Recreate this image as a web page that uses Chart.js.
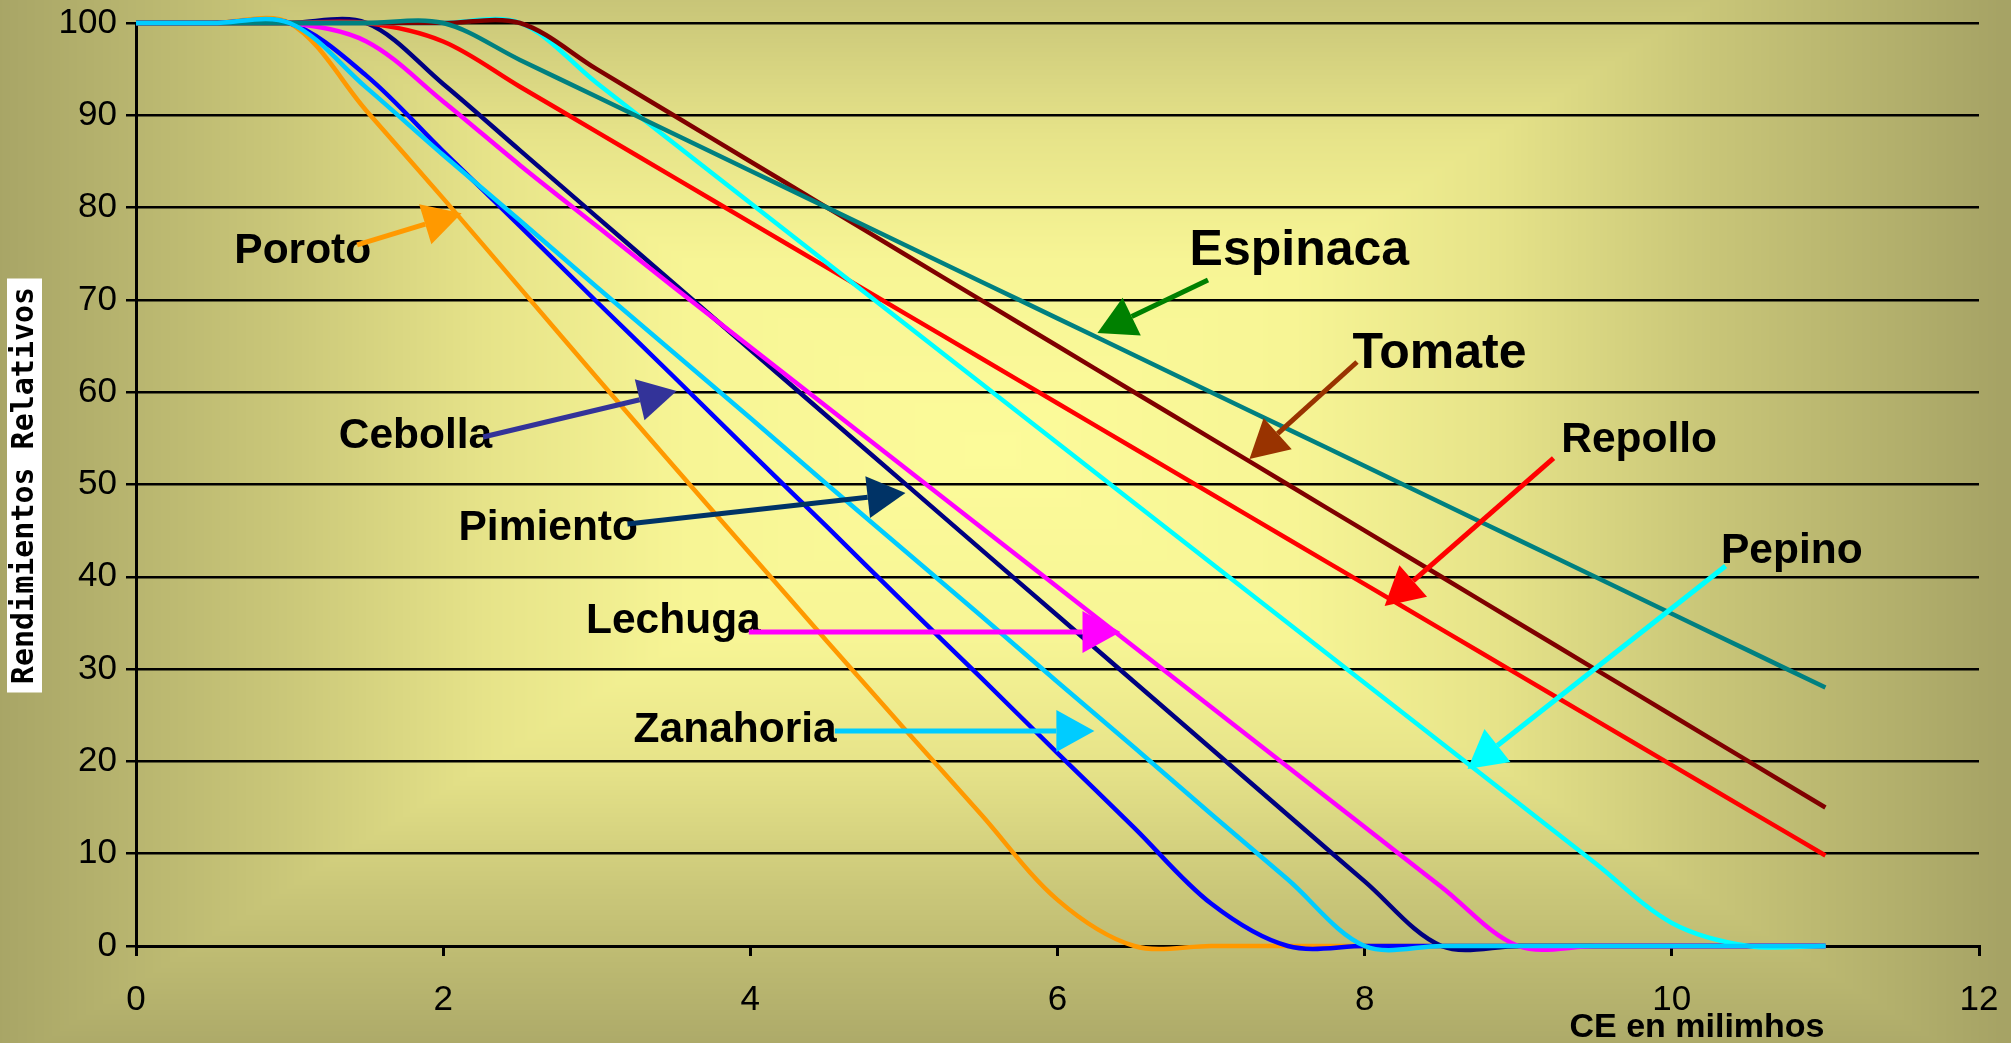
<!DOCTYPE html>
<html>
<head>
<meta charset="utf-8">
<title>Tolerancia de cultivos a la salinidad</title>
<script src="https://cdn.jsdelivr.net/npm/chart.js@4.4.1/dist/chart.umd.min.js"></script>
<style>
  html, body { margin: 0; padding: 0; overflow: hidden; background: #a6a365; }
  #wrap { width: 2011px; height: 1043px; position: relative; }
  canvas { display: block; }
</style>
</head>
<body>
<div id="wrap"><canvas id="c" width="2011" height="1043"></canvas></div>
<script>
// Conductividad eléctrica (CE, mmhos/cm) y rendimiento relativo (%) por cultivo
const ce = [0, 0.5, 1, 1.5, 2, 2.5, 3, 3.5, 4, 4.5, 5, 5.5, 6, 6.5, 7, 7.5, 8, 8.5, 9, 9.5, 10, 10.5, 11];

const poroto    = [100, 100, 100, 90.5, 81, 71.3, 61.6, 52, 42.5, 33, 23.6, 14.3, 5, 0, 0, 0, 0, 0, 0, 0, 0, 0, 0];
const cebolla   = [100, 100, 100, 94.3, 86.1, 78, 69.8, 61.7, 53.5, 45.4, 37.2, 29.1, 20.9, 12.8, 4.6, 0, 0, 0, 0, 0, 0, 0, 0];
const pimiento  = [100, 100, 100, 100, 93.4, 86.2, 79, 71.8, 64.6, 57.4, 50.2, 43, 35.8, 28.6, 21.4, 14.2, 7, 0, 0, 0, 0, 0, 0];
const lechuga   = [100, 100, 100, 98, 91.5, 84.6, 78, 71.4, 64.9, 58.4, 51.9, 45.4, 38.9, 32.4, 25.9, 19.4, 12.9, 6.4, 0, 0, 0, 0, 0];
const repollo   = [100, 100, 100, 100, 98, 93.1, 88.2, 83.3, 78.4, 73.5, 68.6, 63.7, 58.8, 53.9, 49, 44.1, 39.2, 34.3, 29.4, 24.5, 19.6, 14.7, 9.8];
const tomate    = [100, 100, 100, 100, 100, 100, 95, 90, 85, 80, 75, 70, 65, 60, 55, 50, 45, 40, 35, 30, 25, 20, 15];
const pepino    = [100, 100, 100, 100, 100, 100, 93.5, 87, 80.5, 74, 67.5, 61, 54.5, 48, 41.5, 35, 28.5, 22, 15.5, 9, 2.5, 0, 0];
const espinaca  = [100, 100, 100, 100, 100, 96, 92, 88, 84, 80, 76, 72, 68, 64, 60, 56, 52, 48, 44, 40, 36, 32, 28];
const zanahoria = [100, 100, 100, 93, 85.7, 78.6, 71.4, 64.3, 57.2, 50, 42.9, 35.8, 28.6, 21.5, 14.3, 7.2, 0, 0, 0, 0, 0, 0, 0];

const xTicks = [0, 2, 4, 6, 8, 10, 12];
const yTicks = [0, 10, 20, 30, 40, 50, 60, 70, 80, 90, 100];

// Series, listed from the one painted on top to the one underneath
const series = [
  { name: 'Zanahoria', values: zanahoria, color: '#00CCFF' },
  { name: 'Espinaca',  values: espinaca,  color: '#008080' },
  { name: 'Tomate',    values: tomate,    color: '#800000' },
  { name: 'Pepino',    values: pepino,    color: '#00FFFF' },
  { name: 'Repollo',   values: repollo,   color: '#FF0000' },
  { name: 'Lechuga',   values: lechuga,   color: '#FF00FF' },
  { name: 'Pimiento',  values: pimiento,  color: '#000080' },
  { name: 'Cebolla',   values: cebolla,   color: '#0000FF' },
  { name: 'Poroto',    values: poroto,    color: '#FF9900' }
];

// Callout labels with their arrows (positions in axis units)
const callouts = [
  { text: 'Poroto',    size: 42.5, at: [0.64, 74.0],  from: [1.44, 75.95], to: [2.12, 79.4],  color: '#FF9900' },
  { text: 'Cebolla',   size: 42.5, at: [1.32, 53.95], from: [2.26, 55.15], to: [3.52, 60.13], color: '#333399' },
  { text: 'Pimiento',  size: 42.5, at: [2.10, 44.0],  from: [3.20, 45.72], to: [5.01, 49.08], color: '#003366' },
  { text: 'Lechuga',   size: 42.5, at: [2.93, 33.9],  from: [3.99, 34.02], to: [6.41, 34.02], color: '#FF00FF' },
  { text: 'Zanahoria', size: 42.5, at: [3.24, 22.1],  from: [4.55, 23.29], to: [6.24, 23.29], color: '#00CCFF' },
  { text: 'Espinaca',  size: 50,   at: [6.86, 73.8],  from: [6.98, 72.16], to: [6.26, 66.41], color: '#008000' },
  { text: 'Tomate',    size: 50,   at: [7.92, 62.6],  from: [7.95, 63.27], to: [7.25, 52.76], color: '#993300' },
  { text: 'Repollo',   size: 42.5, at: [9.28, 53.5],  from: [9.23, 52.87], to: [8.13, 36.84], color: '#FF0000' },
  { text: 'Pepino',    size: 42.5, at: [10.32, 41.5], from: [10.35, 41.17], to: [8.67, 19.18], color: '#00FFFF' }
];

const FONT = '"Liberation Sans", Arial, Helvetica, sans-serif';
// Plot area edges inside the 2011 x 1043 canvas
const PLOT = { left: 136, top: 23, right: 1979, bottom: 946 };

// Rectangular "from centre" fill of the whole chart background
let bgCanvas = null;
function buildBackground(w, h) {
  const off = document.createElement('canvas');
  off.width = w; off.height = h;
  const octx = off.getContext('2d');
  const img = octx.createImageData(w, h);
  const cx = 990, cy = 450, rx = 1010, ry = 630;
  const stops = [
    [0.00, 252, 251, 154],
    [0.30, 247, 245, 149],
    [0.50, 230, 227, 137],
    [0.70, 202, 199, 121],
    [1.00, 166, 163, 101]
  ];
  for (let y = 0; y < h; y++) {
    const ty = Math.abs(y - cy) / ry;
    for (let x = 0; x < w; x++) {
      let t = Math.max(Math.abs(x - cx) / rx, ty);
      if (t > 1) t = 1;
      let k = 1;
      while (k < stops.length - 1 && stops[k][0] < t) k++;
      const a = stops[k - 1], b = stops[k];
      const f = (t - a[0]) / (b[0] - a[0]);
      const i = (y * w + x) * 4;
      img.data[i]     = a[1] + (b[1] - a[1]) * f;
      img.data[i + 1] = a[2] + (b[2] - a[2]) * f;
      img.data[i + 2] = a[3] + (b[3] - a[3]) * f;
      img.data[i + 3] = 255;
    }
  }
  octx.putImageData(img, 0, 0);
  return off;
}

const backgroundPlugin = {
  id: 'fondo',
  beforeDraw(chart) {
    if (!bgCanvas) bgCanvas = buildBackground(chart.width, chart.height);
    chart.ctx.drawImage(bgCanvas, 0, 0);
  }
};

function drawArrow(ctx, x1, y1, x2, y2, color) {
  const ang = Math.atan2(y2 - y1, x2 - x1);
  const headLen = 38, headHalf = 21;
  const bx = x2 - headLen * Math.cos(ang);
  const by = y2 - headLen * Math.sin(ang);
  ctx.strokeStyle = color;
  ctx.lineWidth = 5;
  ctx.lineCap = 'butt';
  ctx.beginPath();
  ctx.moveTo(x1, y1);
  ctx.lineTo(bx, by);
  ctx.stroke();
  ctx.fillStyle = color;
  ctx.beginPath();
  ctx.moveTo(x2, y2);
  ctx.lineTo(bx + headHalf * Math.sin(ang), by - headHalf * Math.cos(ang));
  ctx.lineTo(bx - headHalf * Math.sin(ang), by + headHalf * Math.cos(ang));
  ctx.closePath();
  ctx.fill();
}

const calloutPlugin = {
  id: 'rotulos',
  afterDatasetsDraw(chart) {
    const ctx = chart.ctx;
    const xs = chart.scales.x, ys = chart.scales.y;
    ctx.save();
    for (const c of callouts) {
      ctx.font = 'bold ' + c.size + 'px ' + FONT;
      ctx.fillStyle = '#000';
      ctx.textAlign = 'left';
      ctx.textBaseline = 'alphabetic';
      ctx.fillText(c.text, xs.getPixelForValue(c.at[0]), ys.getPixelForValue(c.at[1]));
    }
    for (const c of callouts) {
      drawArrow(ctx,
        xs.getPixelForValue(c.from[0]), ys.getPixelForValue(c.from[1]),
        xs.getPixelForValue(c.to[0]), ys.getPixelForValue(c.to[1]), c.color);
    }
    ctx.restore();
  },
  afterDraw(chart) {
    const ctx = chart.ctx;
    const area = chart.chartArea;
    ctx.save();
    // x axis title
    ctx.font = 'bold 34px ' + FONT;
    ctx.fillStyle = '#000';
    ctx.textAlign = 'center';
    ctx.textBaseline = 'alphabetic';
    ctx.fillText('CE en milimhos', area.right - 282, chart.height - 6);
    // y axis title on a white box
    const midY = (area.top + area.bottom) / 2 + 1;
    ctx.translate(24.5, midY);
    ctx.rotate(-Math.PI / 2);
    ctx.fillStyle = '#fff';
    ctx.fillRect(-207, -17.5, 414, 35);
    ctx.fillStyle = '#000';
    ctx.font = 'bold 30px "DejaVu Sans Mono", monospace';
    ctx.textAlign = 'center';
    ctx.textBaseline = 'middle';
    ctx.fillText('Rendimientos Relativos', 0, 1);
    ctx.restore();
  }
};

// Keep tick-label overhang from pushing the plot area inwards
function noOverhang(s) {
  s.paddingLeft = 0; s.paddingRight = 0; s.paddingTop = 0; s.paddingBottom = 0;
}

new Chart(document.getElementById('c'), {
  type: 'line',
  data: {
    datasets: series.map(s => ({
      label: s.name,
      data: ce.map((x, i) => ({ x: x, y: s.values[i] })),
      borderColor: s.color,
      backgroundColor: s.color,
      borderWidth: 4.5,
      pointRadius: 0,
      pointHoverRadius: 0,
      fill: false,
      tension: 0.33,
      clip: false
    }))
  },
  options: {
    responsive: false,
    animation: false,
    devicePixelRatio: 1,
    layout: { autoPadding: false, padding: { top: PLOT.top, right: 2011 - PLOT.right, left: 0, bottom: 0 } },
    elements: { line: { capBezierPoints: false, borderJoinStyle: 'round' } },
    plugins: { legend: { display: false }, tooltip: { enabled: false }, title: { display: false } },
    events: [],
    scales: {
      x: {
        type: 'linear',
        min: 0,
        max: 12,
        afterBuildTicks: s => { s.ticks = xTicks.map(v => ({ value: v })); },
        afterFit: s => { s.height = 1043 - PLOT.bottom; noOverhang(s); },
        grid: { drawOnChartArea: false, drawTicks: true, tickLength: 10, color: '#000', lineWidth: 3 },
        border: { display: true, color: '#000', width: 3 },
        ticks: { color: '#000', font: { family: FONT, size: 35 }, padding: 23, maxRotation: 0, autoSkip: false }
      },
      y: {
        type: 'linear',
        min: 0,
        max: 100,
        afterBuildTicks: s => { s.ticks = yTicks.map(v => ({ value: v })); },
        afterFit: s => { s.width = PLOT.left; noOverhang(s); },
        grid: { drawTicks: true, tickLength: 10, color: '#000', lineWidth: 2.5 },
        border: { display: true, color: '#000', width: 3 },
        ticks: { color: '#000', font: { family: FONT, size: 35 }, padding: 9, autoSkip: false }
      }
    }
  },
  plugins: [backgroundPlugin, calloutPlugin]
});
</script>
</body>
</html>
